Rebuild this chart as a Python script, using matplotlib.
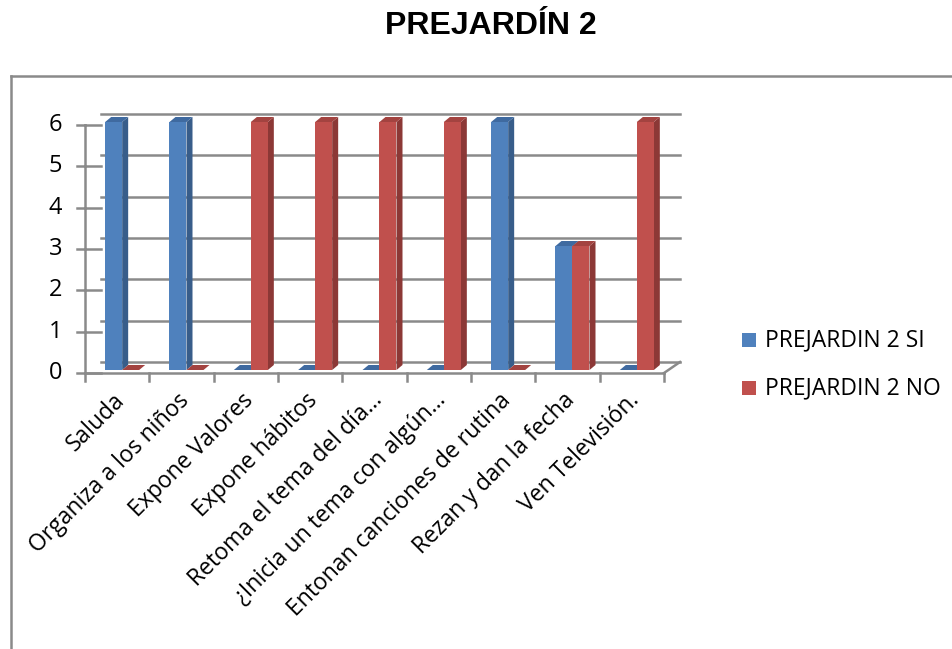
import matplotlib.pyplot as plt
from matplotlib.patches import Polygon, Rectangle
from matplotlib.lines import Line2D

categorias = ["Saluda", "Organiza a los niños", "Expone Valores", "Expone hábitos",
              "Retoma el tema del día…", "¿Inicia un tema con algún…",
              "Entonan canciones de rutina", "Rezan y dan la fecha", "Ven Televisión."]
si = [6, 6, 0, 0, 0, 0, 6, 3, 0]
no = [0, 0, 6, 6, 6, 6, 0, 3, 6]
series = ["PREJARDIN 2 SI", "PREJARDIN 2 NO"]

W, H = 953, 649
fig = plt.figure(figsize=(W / 100, H / 100), dpi=100)
plt.rcParams['font.family'] = ['Open Sans', 'DejaVu Sans']

# axes = front plane of the 3D box, in pixels
x0, x1, yb, yt = 85, 664, 373, 125
ax = fig.add_axes([x0 / W, 1 - yb / H, (x1 - x0) / W, (yb - yt) / H])
ax.set_xlim(0, 9)
ax.set_ylim(0, 6)
ax.set_facecolor('none')
for s in ax.spines.values():
    s.set_visible(False)

pxx = 9 / (x1 - x0)      # data units per pixel
pxy = 6 / (yb - yt)
gris = '#8a8a8a'

# depth of the floor / back wall
DX, DY = 16 * pxx, 11 * pxy
for v in range(7):
    ax.plot([DX, 9 + DX], [v + DY, v + DY], color=gris, lw=1.8, clip_on=False, zorder=1)
    ax.plot([0, DX], [v, v], color=gris, lw=1.8, clip_on=False, zorder=1)
    ax.plot([-8 * pxx, 0], [v, v], color=gris, lw=1.8, clip_on=False, zorder=1)
    ax.text(-23 * pxx, v, str(v), ha='right', va='center', fontsize=17, color='black')
ax.plot([0, 0], [0, 6], color=gris, lw=1.8, clip_on=False, zorder=1)
ax.plot([0, 9], [0, 0], color=gris, lw=1.8, clip_on=False, zorder=1)
ax.plot([9, 9 + DX], [0, DY], color=gris, lw=1.8, clip_on=False, zorder=1)
for i in range(10):
    ax.plot([i, i], [0, -8 * pxy], color=gris, lw=1.8, clip_on=False, zorder=1)

# bars
bw = 17 * pxx
fx, fy = 5 * pxx, 3 * pxy      # shift of bar front face
dx, dy = 6 * pxx, 5 * pxy      # bar depth
colores = [('#4f81bd', '#385d8a', '#3f6aa0'), ('#c0504d', '#8c3836', '#a34340')]
for k, vals in enumerate([si, no]):
    cf, cs, ct = colores[k]
    for i, v in enumerate(vals):
        left = i + 0.5 - bw + k * bw + fx
        b = fy
        z = 3 + i * 0.01 + k * 0.001
        ax.add_patch(Polygon([(left + bw, b), (left + bw + dx, b + dy), (left + bw + dx, b + v + dy),
                              (left + bw, b + v)], closed=True, fc=cs, ec='none', zorder=z, clip_on=False))
        ax.add_patch(Polygon([(left, b + v), (left + bw, b + v), (left + bw + dx, b + v + dy),
                              (left + dx, b + v + dy)], closed=True, fc=ct, ec='none', zorder=z, clip_on=False))
        if v > 0:
            ax.bar(left, v, width=bw, bottom=b, align='edge', color=cf, zorder=z, clip_on=False)

ax.set_xticks([])
ax.set_yticks([])
for i, c in enumerate(categorias):
    ax.text(i + 0.5 + 4 * pxx, -24 * pxy, c, rotation=45, rotation_mode='anchor',
            ha='right', va='center', fontsize=16.5, color='black')

# legend
for k, lab in enumerate(series):
    y = 340 + k * 48
    fig.add_artist(Rectangle((742 / W, 1 - (y + 7) / H), 14 / W, 14 / H,
                             transform=fig.transFigure, fc=colores[k][0], ec='none'))
    fig.text(765 / W, 1 - y / H, lab, ha='left', va='center', fontsize=16.5)

fig.suptitle("PREJARDÍN 2", x=491 / W, y=1 - 26 / H, va='center', fontsize=23,
             fontweight='bold', family='Liberation Sans')

# chart frame
fig.add_artist(Line2D([11 / W, 11 / W], [0, 1 - 76 / H], transform=fig.transFigure, color=gris, lw=1.8))
fig.add_artist(Line2D([11 / W, 1], [1 - 76 / H, 1 - 76 / H], transform=fig.transFigure, color=gris, lw=1.8))

fig.savefig('out.png', dpi=100)
